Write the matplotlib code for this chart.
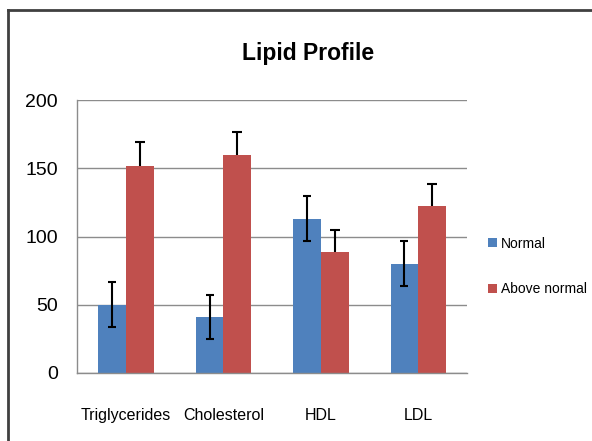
import matplotlib
matplotlib.use("Agg")
import matplotlib.pyplot as plt
import numpy as np
from matplotlib.lines import Line2D

categories = ["Triglycerides", "Cholesterol", "HDL", "LDL"]
normal = [50, 41, 113, 80]
normal_err = [16.5, 16.3, 16.5, 16.4]
above = [152, 160, 89, 122]
above_err = [17, 16.6, 16, 16.6]
yticks = [0, 50, 100, 150, 200]

plt.rcParams['font.family'] = ['Liberation Sans', 'DejaVu Sans']

fig = plt.figure(figsize=(5.92, 4.41), dpi=100)
ax = fig.add_axes([0.1306, 0.1542, 0.6583, 0.619])

x = np.arange(len(categories))
w = 0.285
blue = "#4F81BD"
red = "#C0504D"
ax.bar(x - w/2, normal, w, color=blue, label="Normal", zorder=2)
ax.bar(x + w/2, above, w, color=red, label="Above normal", zorder=2)

# Normal: symmetric error bars
ax.errorbar(x - w/2, normal, yerr=normal_err, fmt="none", ecolor="black",
            elinewidth=1.5, capsize=3, capthick=1.5, zorder=3)
# Above normal: only the upper half is visible
top = np.array(above) + np.array(above_err)
ax.vlines(x + w/2, above, top, color="black", linewidth=1.5, zorder=3)
ax.plot(x + w/2, top, linestyle="none", marker="_", markersize=7,
        markeredgewidth=1.5, color="black", zorder=3)

ax.set_xlim(-0.5, len(categories) - 0.5)
ax.set_ylim(0, 200)
ax.set_yticks(yticks)
ax.set_yticklabels([str(v) for v in yticks], fontsize=14)
ax.set_xticks(x)
ax.set_xticklabels(categories, fontsize=11.5)
ax.tick_params(axis='y', length=0, pad=14)
ax.tick_params(axis='x', length=0, pad=25)
ax.grid(axis='y', color="#8c8c8c", linewidth=1, zorder=0)
for s in ["top", "right"]:
    ax.spines[s].set_visible(False)
for s in ["left", "bottom"]:
    ax.spines[s].set_color("#8c8c8c")
    ax.spines[s].set_linewidth(1)

fig.text(0.52, 0.878, "Lipid Profile", ha="center", va="center", fontsize=16.5, fontweight="bold")

leg = fig.legend(loc="center left", bbox_to_anchor=(0.825, 0.396), frameon=False,
                 fontsize=10, handlelength=0.6, handleheight=0.6, handletextpad=0.3,
                 labelspacing=2.25, borderaxespad=0, borderpad=0)

fig.add_artist(Line2D([8/592, 8/592], [0, 1 - 10/441], transform=fig.transFigure, color="#404040", linewidth=2))
fig.add_artist(Line2D([8/592, 1], [1 - 10/441, 1 - 10/441], transform=fig.transFigure, color="#404040", linewidth=2))

fig.savefig("out.png", dpi=100)
